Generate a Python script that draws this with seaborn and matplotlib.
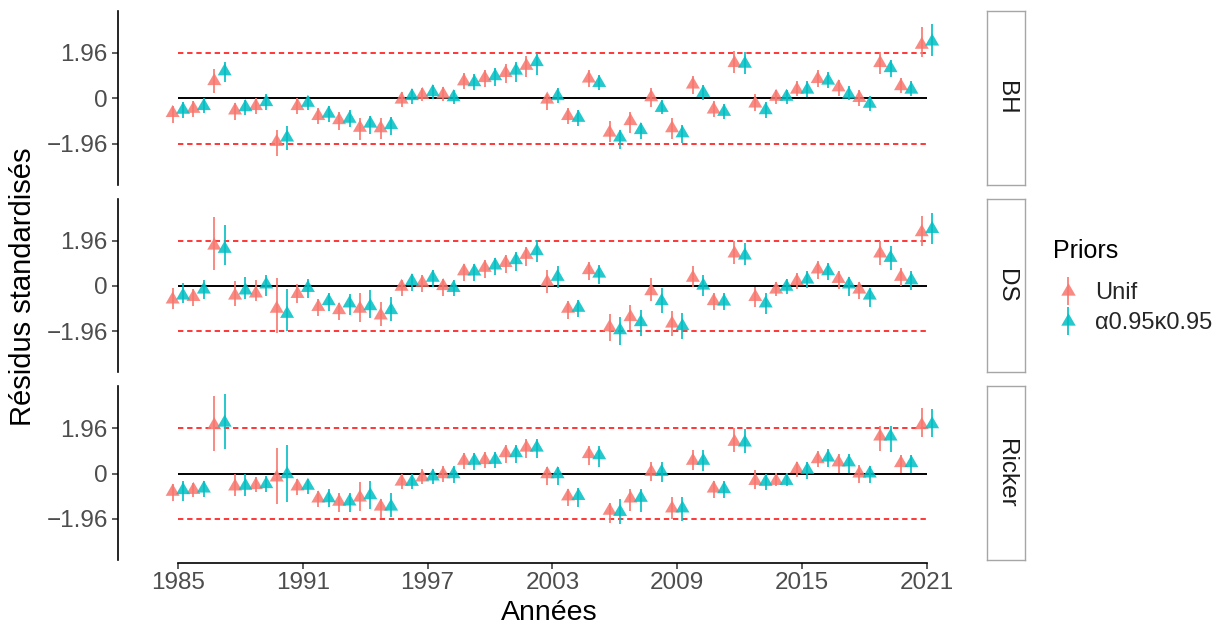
import numpy as np
import pandas as pd
import matplotlib
matplotlib.use("Agg")
import matplotlib.pyplot as plt
from matplotlib.lines import Line2D
from matplotlib.legend_handler import HandlerTuple
import seaborn as sns

# SECTION - DATA
years = list(range(1985, 2022))
models = ["BH", "DS", "Ricker"]
priors = ["Unif", "α0.95κ0.95"]
palette = ["#F8766D", "#00BFC4"]

bh_unif_est = [-0.64, -0.46, 0.74, -0.53, -0.34, -1.89, -0.34, -0.77, -0.95, -1.28, -1.30, -0.06, 0.14, 0.16, 0.73, 0.87, 1.09, 1.40, -0.06, -0.77, 0.85, -1.49, -0.99, 0.04, -1.30, 0.59, -0.49, 1.52, -0.23, 0.06, 0.37, 0.83, 0.47, 0.01, 1.52, 0.52, 2.31]
bh_unif_lo = [-1.06, -0.80, 0.23, -0.96, -0.67, -2.52, -0.70, -1.13, -1.38, -1.81, -1.78, -0.37, -0.14, -0.13, 0.40, 0.47, 0.66, 0.92, -0.49, -1.13, 0.47, -1.89, -1.49, -0.37, -1.78, 0.20, -0.80, 1.09, -0.57, -0.23, 0.09, 0.47, 0.11, -0.32, 1.06, 0.23, 1.76]
bh_unif_hi = [-0.32, -0.13, 1.26, -0.20, 0.00, -1.38, 0.00, -0.42, -0.59, -0.85, -0.86, 0.26, 0.46, 0.47, 1.09, 1.23, 1.48, 1.83, 0.19, -0.42, 1.20, -1.00, -0.60, 0.44, -0.87, 0.97, -0.13, 2.02, 0.16, 0.37, 0.73, 1.20, 0.80, 0.37, 1.98, 0.87, 3.07]
bh_alpha_est = [-0.50, -0.34, 1.16, -0.39, -0.17, -1.70, -0.20, -0.67, -0.89, -1.10, -1.16, 0.09, 0.26, 0.04, 0.69, 0.95, 1.19, 1.56, 0.09, -0.85, 0.66, -1.70, -1.38, -0.42, -1.52, 0.23, -0.59, 1.49, -0.52, 0.06, 0.37, 0.76, 0.16, -0.24, 1.30, 0.37, 2.45]
bh_alpha_lo = [-0.85, -0.63, 0.69, -0.72, -0.49, -2.23, -0.53, -1.03, -1.26, -1.56, -1.59, -0.23, -0.03, -0.24, 0.37, 0.52, 0.72, 1.02, -0.20, -1.20, 0.34, -2.21, -1.78, -0.70, -1.92, -0.06, -0.89, 1.06, -0.85, -0.27, 0.06, 0.42, -0.09, -0.56, 0.92, 0.09, 1.83]
bh_alpha_hi = [-0.17, 0.00, 1.55, -0.06, 0.16, -1.20, 0.11, -0.34, -0.53, -0.77, -0.80, 0.40, 0.57, 0.37, 1.06, 1.29, 1.55, 1.96, 0.43, -0.49, 1.02, -1.39, -1.06, -0.06, -1.17, 0.59, -0.23, 1.98, -0.17, 0.37, 0.73, 1.12, 0.52, 0.09, 1.66, 0.73, 3.19]

ds_unif_est = [-0.59, -0.48, 1.74, -0.42, -0.33, -0.99, -0.35, -0.91, -1.05, -0.99, -1.28, -0.04, 0.13, -0.01, 0.63, 0.78, 0.99, 1.34, 0.16, -0.99, 0.68, -1.79, -1.35, -0.23, -1.63, 0.35, -0.66, 1.40, -0.48, -0.16, 0.20, 0.71, 0.30, -0.16, 1.40, 0.39, 2.32]
ds_unif_lo = [-1.02, -0.85, 0.68, -0.85, -0.66, -2.03, -0.74, -1.31, -1.49, -1.57, -1.74, -0.45, -0.27, -0.42, 0.23, 0.35, 0.56, 0.85, -0.33, -1.42, 0.27, -2.39, -1.89, -0.66, -2.18, -0.04, -1.06, 0.96, -0.91, -0.45, -0.12, 0.30, -0.13, -0.59, 0.92, 0.01, 1.71]
ds_unif_hi = [-0.09, -0.13, 2.98, 0.20, 0.24, 0.35, 0.06, -0.59, -0.74, -0.30, -0.71, 0.27, 0.45, 0.30, 0.96, 1.11, 1.35, 1.69, 0.68, -0.66, 1.02, -1.20, -0.81, 0.35, -1.09, 0.85, -0.30, 1.93, -0.04, 0.16, 0.56, 1.07, 0.66, 0.16, 1.93, 0.78, 3.04]
ds_alpha_est = [-0.42, -0.16, 1.60, -0.20, 0.06, -1.21, -0.09, -0.66, -0.76, -0.88, -1.05, 0.20, 0.35, -0.09, 0.62, 0.88, 1.11, 1.50, 0.39, -0.95, 0.53, -1.92, -1.57, -0.66, -1.74, 0.01, -0.68, 1.31, -0.76, -0.04, 0.27, 0.63, 0.06, -0.42, 1.21, 0.24, 2.46]
ds_alpha_lo = [-0.76, -0.59, 0.92, -0.59, -0.42, -1.96, -0.52, -1.10, -1.24, -1.38, -1.53, -0.23, -0.04, -0.45, 0.23, 0.45, 0.63, 1.02, -0.09, -1.34, 0.06, -2.54, -2.15, -1.17, -2.28, -0.45, -1.06, 0.89, -1.22, -0.37, -0.09, 0.27, -0.45, -0.91, 0.68, -0.16, 1.79]
ds_alpha_hi = [0.13, 0.24, 2.65, 0.39, 0.45, -0.13, 0.30, -0.30, -0.37, -0.19, -0.49, 0.53, 0.68, 0.24, 0.96, 1.21, 1.45, 2.00, 0.85, -0.62, 0.88, -1.36, -1.05, -0.09, -1.19, 0.49, -0.33, 1.86, -0.33, 0.30, 0.63, 1.00, 0.39, -0.09, 1.71, 0.63, 3.13]

ricker_unif_est = [-0.79, -0.71, 2.09, -0.56, -0.50, -0.17, -0.56, -1.08, -1.22, -1.04, -1.43, -0.35, -0.17, -0.03, 0.55, 0.58, 0.88, 1.12, -0.03, -0.99, 0.84, -1.61, -1.08, 0.07, -1.51, 0.55, -0.65, 1.37, -0.32, -0.32, 0.19, 0.62, 0.48, 0.00, 1.60, 0.45, 2.09]
ricker_unif_lo = [-1.18, -1.00, 0.98, -0.97, -0.82, -1.33, -0.94, -1.43, -1.66, -1.61, -1.94, -0.65, -0.46, -0.36, 0.19, 0.22, 0.45, 0.69, -0.50, -1.40, 0.36, -2.15, -1.61, -0.32, -1.97, 0.16, -1.04, 0.94, -0.65, -0.53, -0.17, 0.26, 0.04, -0.39, 0.98, 0.04, 1.56]
ricker_unif_hi = [-0.46, -0.39, 3.36, -0.03, -0.17, 1.12, -0.24, -0.75, -0.86, -0.36, -1.10, -0.03, 0.19, 0.33, 0.88, 0.91, 1.24, 1.50, 0.30, -0.68, 1.20, -1.28, -0.68, 0.50, -1.00, 1.02, -0.32, 1.95, 0.16, 0.01, 0.50, 0.98, 0.84, 0.36, 2.04, 0.79, 2.85]
ricker_alpha_est = [-0.72, -0.65, 2.20, -0.53, -0.46, -0.03, -0.53, -1.07, -1.21, -0.94, -1.43, -0.36, -0.13, -0.03, 0.55, 0.59, 0.88, 1.12, -0.03, -0.97, 0.79, -1.66, -1.05, 0.07, -1.51, 0.55, -0.68, 1.34, -0.36, -0.32, 0.16, 0.69, 0.48, 0.00, 1.60, 0.45, 2.13]
ricker_alpha_lo = [-1.18, -1.00, 1.05, -0.97, -0.82, -1.22, -0.89, -1.43, -1.66, -1.54, -1.90, -0.65, -0.46, -0.39, 0.16, 0.22, 0.45, 0.69, -0.50, -1.43, 0.30, -2.19, -1.66, -0.36, -2.05, 0.12, -1.08, 0.88, -0.71, -0.53, -0.22, 0.26, 0.04, -0.42, 0.94, 0.04, 1.56]
ricker_alpha_hi = [-0.32, -0.32, 3.43, -0.03, -0.10, 1.22, -0.22, -0.65, -0.85, -0.32, -0.85, -0.03, 0.19, 0.33, 0.88, 0.94, 1.24, 1.50, 0.30, -0.61, 1.17, -1.10, -0.68, 0.50, -1.00, 1.02, -0.32, 1.92, -0.03, 0.01, 0.48, 1.05, 0.84, 0.33, 2.04, 0.79, 2.81]

x_ticks = [1985, 1991, 1997, 2003, 2009, 2015, 2021]
y_ticks = [-1.96, 0, 1.96]
y_ticklabels = ["\u22121.96", "0", "1.96"]
# !SECTION

series = {
    ("BH", "Unif"): (bh_unif_est, bh_unif_lo, bh_unif_hi),
    ("BH", priors[1]): (bh_alpha_est, bh_alpha_lo, bh_alpha_hi),
    ("DS", "Unif"): (ds_unif_est, ds_unif_lo, ds_unif_hi),
    ("DS", priors[1]): (ds_alpha_est, ds_alpha_lo, ds_alpha_hi),
    ("Ricker", "Unif"): (ricker_unif_est, ricker_unif_lo, ricker_unif_hi),
    ("Ricker", priors[1]): (ricker_alpha_est, ricker_alpha_lo, ricker_alpha_hi),
}
frames = []
for (model, prior), (est, lo, hi) in series.items():
    frames.append(pd.DataFrame({"model": model, "prior": prior, "year": years,
                                "est": est, "lo": lo, "hi": hi}))
df = pd.concat(frames, ignore_index=True)
# position_dodge equivalent
df["x"] = df["year"] + df["prior"].map({priors[0]: -0.25, priors[1]: 0.25})

sns.set_style("white")
plt.rcParams["font.family"] = ["Liberation Sans", "DejaVu Sans"]

# ggplot-like triangle (centroid on the data point)
tri = [(0, 1), (-0.866, -0.5), (0.866, -0.5)]
alpha = 0.85

W, H = 1225, 628
fig, axes = plt.subplots(3, 1, figsize=(W / 100, H / 100), dpi=100, sharex=True)
fig.subplots_adjust(left=117.5 / W, right=979 / W, top=1 - 11 / H,
                    bottom=1 - 560 / H, hspace=14 / 174)

for ax, model in zip(axes, models):
    sub = df[df["model"] == model]
    ax.hlines([1.96, -1.96], 1985, 2021, colors="#FF0000", linestyles=(0, (3.5, 2.5)), lw=1.1, zorder=1)
    ax.hlines(0, 1985, 2021, colors="black", lw=1.4, zorder=1)
    for prior, col in zip(priors, palette):
        s = sub[sub["prior"] == prior]
        ax.vlines(s["x"], s["lo"], s["hi"], colors=col, lw=1.4, alpha=alpha, zorder=2)
    sns.scatterplot(data=sub, x="x", y="est", hue="prior", hue_order=priors, palette=palette,
                    marker=tri, s=135, alpha=alpha, linewidth=0, legend=False, ax=ax, zorder=3)
    ax.set_xlim(1982.1, 2023.5)
    ax.set_ylim(-3.74, 3.77)
    ax.set_yticks(y_ticks)
    ax.set_yticklabels(y_ticklabels)
    ax.set_xlabel("")
    ax.set_ylabel("")
    ax.tick_params(axis="y", left=True, length=4, width=1.1, color="#333333",
                   labelsize=17.5, labelcolor="#4D4D4D", pad=3)
    for side in ["top", "right"]:
        ax.spines[side].set_visible(False)
    ax.spines["left"].set_color("black")
    ax.spines["left"].set_linewidth(1.2)
    ax.spines["bottom"].set_visible(False)
    ax.tick_params(axis="x", bottom=False, labelbottom=False)

    # facet strip on the right
    pos = ax.get_position()
    sax = fig.add_axes([987 / W, pos.y0, 38 / W, pos.height])
    sax.set_xticks([])
    sax.set_yticks([])
    for sp in sax.spines.values():
        sp.set_color("#A6A6A6")
        sp.set_linewidth(1.0)
    sax.text(0.5, 0.5, model, rotation=270, ha="center", va="center",
             fontsize=17.5, color="#1A1A1A", transform=sax.transAxes)

bottom_ax = axes[-1]
bottom_ax.spines["bottom"].set_visible(True)
bottom_ax.spines["bottom"].set_color("black")
bottom_ax.spines["bottom"].set_linewidth(1.2)
bottom_ax.spines["bottom"].set_position(("outward", 2.5))
bottom_ax.spines["bottom"].set_bounds(1985, 2021)
bottom_ax.set_xticks(x_ticks)
bottom_ax.set_xticklabels([str(x) for x in x_ticks])
bottom_ax.tick_params(axis="x", bottom=True, labelbottom=True, length=4, width=1.1,
                      color="#333333", labelsize=17.5, labelcolor="#4D4D4D", pad=2)

fig.text(23 / W, 1 - 287 / H, "Résidus standardisés", rotation=90, ha="center", va="center",
         fontsize=21, color="black")
fig.text(549 / W, 1 - 613 / H, "Années", ha="center", va="center", fontsize=20.5, color="black")

# legend: title as separate text, to get ggplot's gap below the title
fig.text(1053 / W, 1 - 251 / H, "Priors", ha="left", va="center", fontsize=18, color="black")
handles = [(Line2D([], [], marker="|", ms=20, mew=1.4, color=c, alpha=alpha, ls=""),
            Line2D([], [], marker=tri, ms=12, mew=0, color=c, alpha=alpha, ls=""))
           for c in palette]
fig.legend(handles, priors, handler_map={tuple: HandlerTuple(ndivide=1)},
           loc="upper left", bbox_to_anchor=(1053 / W, 1 - 282 / H),
           borderpad=0, borderaxespad=0, frameon=False, fontsize=17,
           handlelength=1.25, handletextpad=0.55, labelspacing=0.35)

fig.savefig("out.png", dpi=100)
